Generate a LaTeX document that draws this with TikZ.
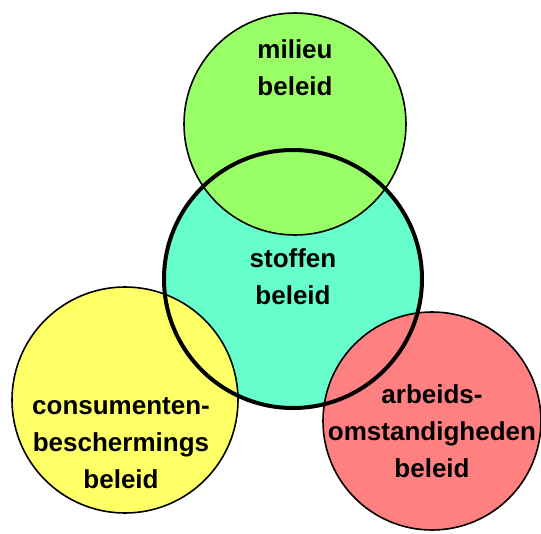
\documentclass[tikz,border=0pt]{standalone}
\usepackage{fontspec}
\setmainfont{Liberation Sans}
\definecolor{cgreen}{HTML}{99FF66}
\definecolor{cteal}{HTML}{66FFCC}
\definecolor{cyellow}{HTML}{FFFF66}
\definecolor{cred}{HTML}{FF8080}
\begin{document}
\begin{tikzpicture}[x=1pt,y=-1pt,
  disc/.style={circle,inner sep=0pt,draw=none},
  lbl/.style={align=center,font=\fontsize{26}{37}\selectfont\bfseries,inner sep=0pt}]
\useasboundingbox (0,0) rectangle (541,533);
% fills
\node[disc,fill=cteal,minimum size=258pt] (st) at (293,279) {};
\node[disc,fill=cgreen,minimum size=222pt] (mi) at (295,124) {};
\node[disc,fill=cyellow,minimum size=226pt] (co) at (125,400) {};
\node[disc,fill=cred,minimum size=218pt] (ar) at (432,421) {};
% outlines
\draw[line width=1.6pt] (mi.center) circle (111);
\draw[line width=1.6pt] (co.center) circle (113);
\draw[line width=1.6pt] (ar.center) circle (109);
\draw[line width=4pt] (st.center) circle (129);
% labels
\node[lbl] (tmi) at (295,68) {milieu\\beleid};
\node[lbl] (tst) at (293,277) {stoffen\\beleid};
\node[lbl] (tco) at (121,443) {consumenten-\\beschermings\\beleid};
\node[lbl] (tar) at (432,431) {arbeids-\\omstandigheden\\beleid};
\end{tikzpicture}
\end{document}
